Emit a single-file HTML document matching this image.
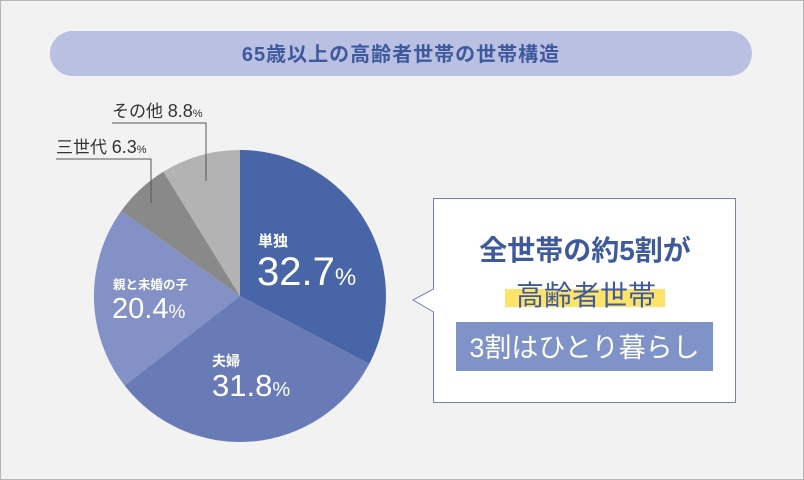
<!DOCTYPE html>
<html><head><meta charset="utf-8"><style>
body{margin:0;width:804px;height:480px;background:#f2f2f2;overflow:hidden;font-family:"Liberation Sans","Noto Sans CJK JP",sans-serif}
</style></head><body>
<svg width="804" height="480" xmlns="http://www.w3.org/2000/svg" style="position:absolute;left:0;top:0;font-family:'Liberation Sans','Noto Sans CJK JP',sans-serif">
<rect x="0.5" y="0.5" width="803" height="479" fill="#f2f2f2" stroke="#b5b5b5"/>
<rect x="50" y="31" width="702" height="45" rx="22.5" fill="#b9c0e2"/>
<text x="401" y="61" text-anchor="middle" font-size="20" font-weight="bold" letter-spacing="1" fill="#3f5a9c">65歳以上の高齢者世帯の世帯構造</text>
<path d="M240 296 L240 150 A146 146 0 0 1 369.2 363.9Z" fill="#4865a8"/>
<path d="M240 296 L369.2 363.9 A146 146 0 0 1 124.6 385.5Z" fill="#687bb6"/>
<path d="M240 296 L124.6 385.5 A146 146 0 0 1 121.3 210.9Z" fill="#8391c6"/>
<path d="M240 296 L121.3 210.9 A146 146 0 0 1 163.4 171.7Z" fill="#898989"/>
<path d="M240 296 L163.4 171.7 A146 146 0 0 1 240 150Z" fill="#b3b3b3"/>
<polyline points="112,123 206,123 206,181" fill="none" stroke="#555" stroke-width="1"/>
<polyline points="56,159 151,159 151,203" fill="none" stroke="#555" stroke-width="1"/>
<text x="112" y="117" font-size="17" fill="#333">その他 <tspan font-size="18">8.8</tspan><tspan font-size="11">%</tspan></text>
<text x="56" y="153" font-size="17" fill="#333">三世代 <tspan font-size="18">6.3</tspan><tspan font-size="11">%</tspan></text>
<g fill="#fff" font-weight="bold">
<text x="258" y="246" font-size="15">単独</text>
<text x="257" y="285" font-size="40" font-weight="normal">32.7<tspan font-size="24">%</tspan></text>
<text x="212" y="366" font-size="14">夫婦</text>
<text x="212" y="396" font-size="31" font-weight="normal">31.8<tspan font-size="20">%</tspan></text>
<text x="113" y="289" font-size="12.5">親と未婚の子</text>
<text x="112" y="318" font-size="29" font-weight="normal">20.4<tspan font-size="19">%</tspan></text>
</g>
<path d="M433.5 198.5 H735.5 V402.5 H433.5 V312 L413 300 L433.5 289 Z" fill="#fff" stroke="#6f80c0" stroke-width="1"/>
<text x="585" y="260" text-anchor="middle" font-size="28" font-weight="bold" fill="#3f5a9c">全世帯の約5割が</text>
<rect x="505" y="289" width="160" height="18" fill="#fce46a"/>
<text x="586" y="305" text-anchor="middle" font-size="28" fill="#3f5a9c">高齢者世帯</text>
<rect x="456" y="322" width="257" height="49" fill="#7f93c8"/>
<text x="584.5" y="357" text-anchor="middle" font-size="27" fill="#fff">3割はひとり暮らし</text>
</svg>
</body></html>
